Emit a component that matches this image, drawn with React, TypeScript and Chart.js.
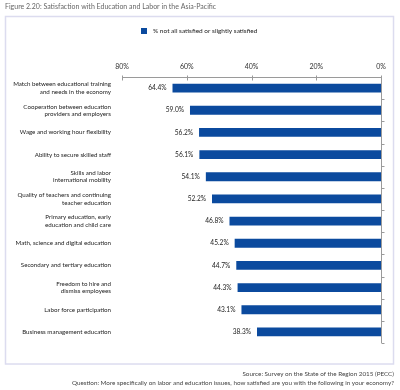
import React, { useEffect, useRef } from "react";
import { Chart, registerables } from "chart.js";

Chart.register(...registerables);

const titleText = "Figure 2.20: Satisfaction with Education and Labor in the Asia-Pacific";
const seriesLabel = "% not all satisfied or slightly satisfied";
const sourceText = "Source: Survey on the State of the Region 2015 (PECC)";
const questionText =
  "Question: More specifically on labor and education issues, how satisfied are you with the following in your economy?";

const categories: string[][] = [
  ["Match between educational training", "and needs in the economy"],
  ["Cooperation between education", "providers and employers"],
  ["Wage and working hour flexibility"],
  ["Ability to secure skilled staff"],
  ["Skills and labor", "international mobility"],
  ["Quality of teachers and continuing", "teacher education"],
  ["Primary education, early", "education and child care"],
  ["Math, science and digital education"],
  ["Secondary and tertiary education"],
  ["Freedom to hire and", "dismiss employees"],
  ["Labor force participation"],
  ["Business management education"],
];

const values: number[] = [64.4, 59.0, 56.2, 56.1, 54.1, 52.2, 46.8, 45.2, 44.7, 44.3, 43.1, 38.3];

const xTickValues: number[] = [0, 20, 40, 60, 80];

const FONT = "'Lato', sans-serif";
const BAR_COLOR = "#0b4a9e";

const decorPlugin = {
  id: "decor",
  beforeDraw(chart: any) {
    const ctx = chart.ctx;
    ctx.save();
    ctx.fillStyle = "#ffffff";
    ctx.fillRect(0, 0, chart.width, chart.height);
    // box
    ctx.strokeStyle = "#dcdcef";
    ctx.lineWidth = 1.5;
    ctx.strokeRect(5.5, 16.5, 388, 347.5);
    // title
    ctx.fillStyle = "#666";
    ctx.font = `7px ${FONT}`;
    ctx.textAlign = "left";
    ctx.textBaseline = "middle";
    ctx.fillText(titleText, 5, 7);
    // legend
    ctx.fillStyle = BAR_COLOR;
    ctx.fillRect(141, 28, 6, 6);
    ctx.fillStyle = "#222";
    ctx.font = `6.5px ${FONT}`;
    ctx.fillText(seriesLabel, 153, 31);
    // footnotes
    ctx.textAlign = "right";
    ctx.fillStyle = "#444";
    ctx.font = `6.3px ${FONT}`;
    ctx.fillText(sourceText, 394, 374);
    ctx.fillText(questionText, 394, 383);
    ctx.restore();
  },
  afterDraw(chart: any) {
    const ctx = chart.ctx;
    const xs = chart.scales.x;
    const ys = chart.scales.y;
    const area = chart.chartArea;
    ctx.save();
    ctx.strokeStyle = "#9a9a9a";
    ctx.lineWidth = 1;
    // top axis line
    const y0 = Math.round(area.top) + 0.5;
    const xZero = Math.round(xs.getPixelForValue(0)) + 0.5;
    ctx.beginPath();
    ctx.moveTo(xs.getPixelForValue(80), y0);
    ctx.lineTo(xZero, y0);
    ctx.stroke();
    xTickValues.forEach((v) => {
      const px = Math.round(xs.getPixelForValue(v)) + 0.5;
      ctx.beginPath();
      ctx.moveTo(px, y0 - 2);
      ctx.lineTo(px, y0 + 3);
      ctx.stroke();
    });
    // right vertical axis line
    ctx.beginPath();
    ctx.moveTo(xZero, y0);
    ctx.lineTo(xZero, area.bottom);
    ctx.stroke();
    const n = categories.length;
    const band = (area.bottom - area.top) / n;
    for (let i = 1; i <= n; i++) {
      const py = Math.round(ys.getPixelForValue(i - 1) + band / 2) + 0.5;
      ctx.beginPath();
      ctx.moveTo(xZero, py);
      ctx.lineTo(xZero + 3, py);
      ctx.stroke();
    }
    // value labels
    ctx.fillStyle = "#222";
    ctx.font = `6.6px ${FONT}`;
    ctx.textAlign = "right";
    ctx.textBaseline = "middle";
    values.forEach((v, i) => {
      const px = xs.getPixelForValue(v);
      const py = ys.getPixelForValue(i);
      ctx.fillText(v.toFixed(1) + "%", px - 6, py);
    });
    ctx.restore();
  },
};

export default function App() {
  const ref = useRef<HTMLCanvasElement | null>(null);
  useEffect(() => {
    if (!ref.current) return;
    const chart = new Chart(ref.current, {
      type: "bar",
      data: {
        labels: categories,
        datasets: [
          {
            label: seriesLabel,
            data: values,
            backgroundColor: BAR_COLOR,
            borderWidth: 0,
            barPercentage: 0.8,
            categoryPercentage: 0.5,
          },
        ],
      },
      options: {
        indexAxis: "y",
        responsive: false,
        animation: false,
        layout: { padding: { left: 0, top: 0, right: 19, bottom: 47 } },
        plugins: {
          legend: { display: false },
          tooltip: { enabled: false },
        },
        scales: {
          x: {
            position: "top",
            reverse: true,
            min: 0,
            max: 80,
            afterBuildTicks: (s: any) => {
              s.ticks = xTickValues.map((v) => ({ value: v }));
            },
            ticks: {
              callback: (v: any) => v + "%",
              font: { size: 7, family: FONT },
              color: "#333",
              padding: 6,
            },
            grid: { display: false, drawTicks: false },
            border: { display: false },
            afterFit: (s: any) => {
              s.height = 77;
            },
          },
          y: {
            ticks: {
              font: { size: 6.2, family: FONT, lineHeight: 1.2 },
              color: "#222",
              padding: 11,
              autoSkip: false,
            },
            grid: { display: false, drawTicks: false },
            border: { display: false },
            afterFit: (s: any) => {
              s.width = 122;
            },
          },
        },
      },
      plugins: [decorPlugin],
    } as any);
    return () => chart.destroy();
  }, []);
  return (
    <div style={{ position: "fixed", left: 0, top: 0, width: 400, height: 390 }}>
      <canvas ref={ref} width={400} height={390} />
    </div>
  );
}
